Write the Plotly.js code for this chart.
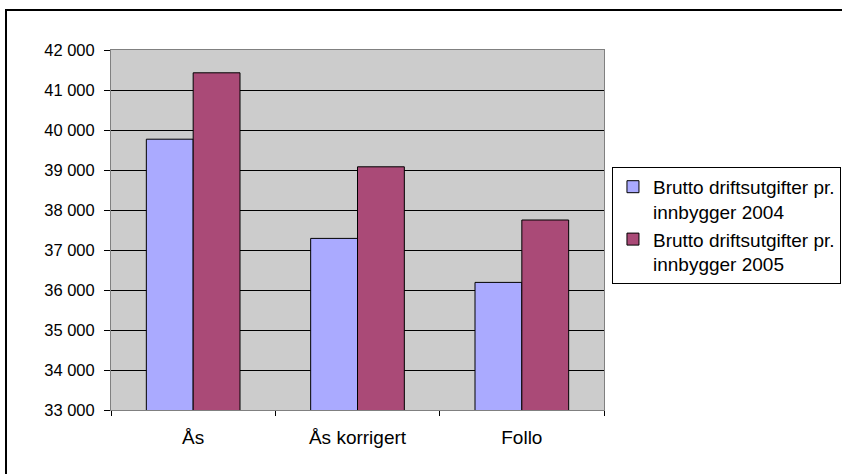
<!DOCTYPE html>
<html>
<head>
<meta charset="utf-8">
<script src="https://cdn.plot.ly/plotly-3.0.1.min.js"></script>
<style>
  html, body { margin: 0; padding: 0; background: #fff; overflow: hidden; width: 842px; height: 474px; }
  #chart { width: 842px; height: 474px; position: absolute; left: 0; top: 0; }
  #frame { position: absolute; left: 5px; top: 9px; width: 835px; height: 463px;
           border-left: 2px solid #000; border-top: 2px solid #000; pointer-events: none; }
</style>
</head>
<body>
<div id="chart"></div>
<div id="frame"></div>
<script>
const categories = ["Ås", "Ås korrigert", "Follo"];
const values2004 = [39770, 37290, 36190];
const values2005 = [41430, 39080, 37750];
const seriesNames = ["Brutto driftsutgifter pr.<br>innbygger 2004", "Brutto driftsutgifter pr.<br>innbygger 2005"];
const yTicks = [33000, 34000, 35000, 36000, 37000, 38000, 39000, 40000, 41000, 42000];

const fam = "Liberation Sans, Arial, sans-serif";

const traces = [
  { type: "bar", x: categories, y: values2004, name: seriesNames[0],
    marker: { color: "#aaaaff", line: { color: "#000", width: 1 } }, hoverinfo: "none" },
  { type: "bar", x: categories, y: values2005, name: seriesNames[1],
    marker: { color: "#aa4a77", line: { color: "#000", width: 1 } }, hoverinfo: "none" }
];

const layout = {
  width: 842, height: 474,
  margin: { l: 111, r: 238, t: 50, b: 64, autoexpand: false },
  paper_bgcolor: "rgba(0,0,0,0)",
  plot_bgcolor: "#cccccc",
  font: { family: fam, size: 16, color: "#000" },
  separators: ", ",
  barmode: "group",
  bargap: 0.43,
  bargroupgap: 0,
  showlegend: true,
  legend: {
    xref: "container", yref: "container",
    x: 0.7268, y: 0.648, xanchor: "left", yanchor: "top",
    bgcolor: "#fff", bordercolor: "#000", borderwidth: 1,
    font: { family: fam, size: 19, color: "#000" },
    itemwidth: 30, tracegroupgap: 0, valign: "top"
  },
  xaxis: {
    type: "category",
    showline: true, linecolor: "#808080", linewidth: 1, mirror: true,
    ticks: "outside", tickson: "boundaries", ticklen: 5, tickcolor: "#000",
    ticklabelstandoff: 10,
    showgrid: false, zeroline: false,
    tickfont: { family: fam, size: 19, color: "#000" }
  },
  yaxis: {
    range: [33000, 42000],
    tickvals: yTicks, tickformat: ",d",
    showline: true, linecolor: "#808080", linewidth: 1, mirror: true,
    ticks: "outside", ticklen: 6, tickcolor: "#000",
    ticklabelstandoff: 6,
    showgrid: true, gridcolor: "#000", gridwidth: 1,
    zeroline: false,
    tickfont: { family: fam, size: 16.5, color: "#000" }
  }
};

Plotly.newPlot("chart", traces, layout, { staticPlot: true });
</script>
</body>
</html>
